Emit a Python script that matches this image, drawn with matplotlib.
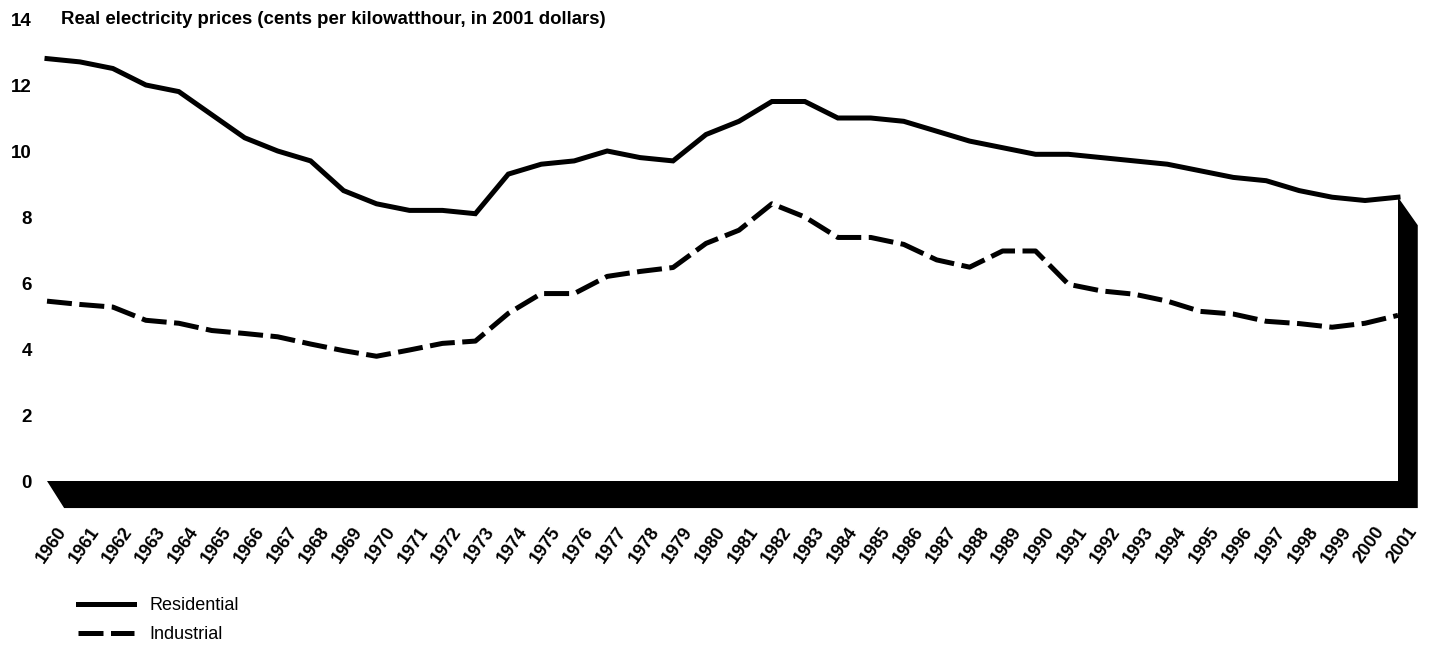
import numpy as np
import matplotlib.pyplot as plt
from matplotlib import transforms
from matplotlib.lines import Line2D

# ── Data ──────────────────────────────────────────────────────────────────────
YEARS = list(range(1960, 2002))
RESIDENTIAL = [12.8, 12.7, 12.5, 12.0, 11.8, 11.1, 10.4, 10.0, 9.7, 8.8,
               8.4, 8.2, 8.2, 8.1, 9.3, 9.6, 9.7, 10.0, 9.8, 9.7,
               10.5, 10.9, 11.5, 11.5, 11.0, 11.0, 10.9, 10.6, 10.3, 10.1,
               9.9, 9.9, 9.8, 9.7, 9.6, 9.4, 9.2, 9.1, 8.8, 8.6,
               8.5, 8.6]
INDUSTRIAL = [5.45, 5.35, 5.27, 4.87, 4.78, 4.56, 4.47, 4.37, 4.15, 3.95,
              3.78, 3.97, 4.17, 4.24, 5.08, 5.68, 5.68, 6.2, 6.35, 6.47,
              7.2, 7.6, 8.4, 8.0, 7.38, 7.38, 7.17, 6.7, 6.48, 6.97,
              6.97, 5.96, 5.76, 5.66, 5.45, 5.14, 5.06, 4.84, 4.77, 4.66,
              4.78, 5.02]
Y_TICKS = [0, 2, 4, 6, 8, 10, 12, 14]
TITLE = "Real electricity prices (cents per kilowatthour, in 2001 dollars)"

# ── Style ─────────────────────────────────────────────────────────────────────
plt.rcParams["font.family"] = ["Liberation Sans", "DejaVu Sans"]
LW = 3.6
DASH = (5, 1.5)

W, H = 1433, 645
fig = plt.figure(figsize=(W / 100, H / 100), dpi=100)
ax = fig.add_axes([47 / W, (H - 481) / H, 1351 / W, 462 / H])

ax.plot(YEARS, RESIDENTIAL, color="black", lw=LW, solid_joinstyle="miter",
        label="Residential", clip_on=False, zorder=3)
ax.plot(YEARS, INDUSTRIAL, color="black", lw=LW, dashes=DASH,
        label="Industrial", clip_on=False, zorder=3)

# 3-D looking floor and right-hand wall
x0, x1 = YEARS[0], YEARS[-1]
depth_x, depth_y = 0.52, 0.82
wall_w = 0.6
r_end = RESIDENTIAL[-1]
poly_x = [x0, x1, x1, x1 + wall_w, x1 + wall_w, x0 + depth_x]
poly_y = [0, 0, r_end, r_end - 0.85, -depth_y, -depth_y]
ax.fill(poly_x, poly_y, color="black", lw=0, clip_on=False, zorder=2)

ax.set_xlim(x0, x1)
ax.set_ylim(0, 14)
for s in ax.spines.values():
    s.set_visible(False)

ax.set_yticks(Y_TICKS)
ax.set_yticklabels([str(v) for v in Y_TICKS], fontsize=13.5, fontweight="bold")
ax.tick_params(axis="y", length=0, pad=11)

ax.set_xticks(YEARS)
ax.set_xticklabels([str(y) for y in YEARS], fontsize=13, fontweight="bold")
ax.tick_params(axis="x", length=0, pad=34)
offset = transforms.ScaledTranslation(16 / 100, 0, fig.dpi_scale_trans)
for lab in ax.get_xticklabels():
    lab.set_rotation(55)
    lab.set_ha("right")
    lab.set_va("center")
    lab.set_rotation_mode("anchor")
    lab.set_transform(lab.get_transform() + offset)

ax.annotate(TITLE, xy=(0, 14), xycoords=("axes fraction", "data"),
            xytext=(10, 0), textcoords="offset points",
            va="center", ha="left", fontsize=13.4, fontweight="bold",
            annotation_clip=False)

handles = [Line2D([], [], color="black", lw=LW),
           Line2D([], [], color="black", lw=LW, dashes=DASH)]
fig.legend(handles, ["Residential", "Industrial"], loc="upper left",
           bbox_to_anchor=(78 / W, 1 - 597 / H), frameon=False,
           fontsize=13, handlelength=3.1, handletextpad=0.85,
           labelspacing=0.68, borderpad=0, borderaxespad=0)

fig.savefig("out.png", dpi=100)
